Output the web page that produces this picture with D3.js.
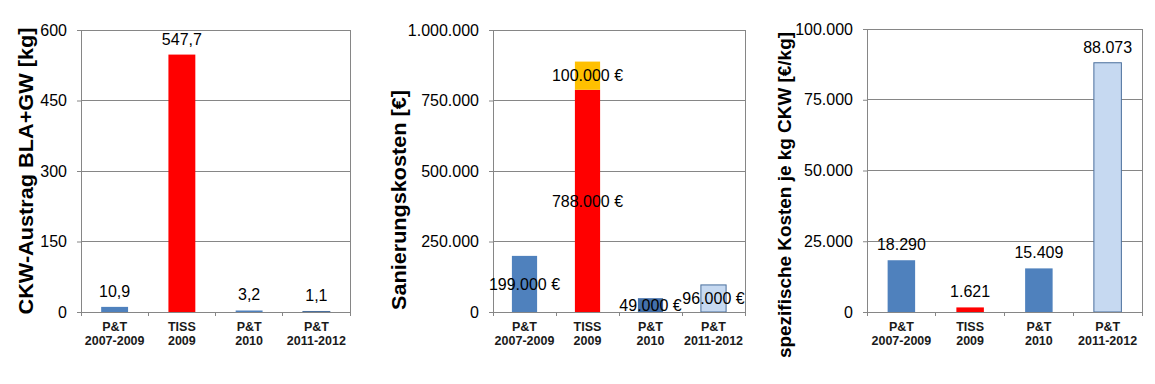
<!DOCTYPE html>
<html>
<head>
<meta charset="utf-8">
<script src="https://cdn.jsdelivr.net/npm/d3@7"></script>
<style>
  body { margin: 0; background: #fff; }
  svg { display: block; font-family: "Liberation Sans", Arial, sans-serif; }
</style>
</head>
<body>
<svg id="chart" width="1155" height="384"></svg>
<script>
// data
const categories = [["P&T", "2007-2009"], ["TISS", "2009"], ["P&T", "2010"], ["P&T", "2011-2012"]];
const austrag = [10.9, 547.7, 3.2, 1.1];               // kg
const kosten = [199000, 788000, 49000, 96000];         // EUR
const kostenZusatz = [0, 100000, 0, 0];                // EUR, stacked on top
const spezKosten = [18290, 1621, 15409, 88073];        // EUR/kg
const austragTicks = [0, 150, 300, 450, 600];
const kostenTicks = [0, 250000, 500000, 750000, 1000000];
const spezTicks = [0, 25000, 50000, 75000, 100000];

const barColors = ["#4f81bd", "#ff0000", "#4f81bd", "#c6d9f1"];
const kostenColors = ["#4f81bd", "#ff0000", "#4470aa", "#c6d9f1"];
const barStroke = [null, null, null, "#4a6f9c"];
const extraColor = "#ffc000";
const gridColor = "#868686";

const de = d3.formatLocale({ decimal: ",", thousands: ".", grouping: [3], currency: ["", " €"] });
const fmtInt = de.format(",d");
const fmtDec = de.format(",.1f");
const fmtEur = v => fmtInt(v) + " €";

const svg = d3.select("#chart");

function panel(opt) {
  const g = svg.append("g");
  const colors = opt.colors || barColors;
  const x = d3.scaleBand().domain(d3.range(4)).range([opt.left, opt.right])
    .paddingInner(0.6).paddingOuter(0.3);
  const y = d3.scaleLinear().domain([0, d3.max(opt.ticks)]).range([opt.bottom, opt.top]);
  const step = (opt.right - opt.left) / 4;

  // grid
  g.selectAll(".grid").data(opt.ticks.slice(1)).join("line")
    .attr("x1", opt.left).attr("x2", opt.right)
    .attr("y1", d => y(d)).attr("y2", d => y(d))
    .attr("stroke", gridColor).attr("stroke-width", 1).attr("shape-rendering", "crispEdges");
  g.append("line").attr("x1", opt.right).attr("x2", opt.right)
    .attr("y1", opt.top).attr("y2", opt.bottom)
    .attr("stroke", gridColor).attr("shape-rendering", "crispEdges");

  // y axis
  const ya = g.append("g").attr("transform", `translate(${opt.left},0)`)
    .call(d3.axisLeft(y).tickValues(opt.ticks).tickFormat(opt.tickFormat).tickSizeInner(4).tickSizeOuter(0).tickPadding(10));
  ya.select(".domain").attr("stroke", gridColor);
  ya.selectAll(".tick line").attr("stroke", gridColor);
  ya.selectAll(".tick text").attr("font-size", 16).attr("fill", "#000")
    .attr("font-family", "Liberation Sans, Arial, sans-serif");

  // bars
  opt.values.forEach((v, i) => {
    g.append("rect")
      .attr("x", x(i)).attr("width", x.bandwidth())
      .attr("y", y(v)).attr("height", Math.max(y(0) - y(v), 0.8))
      .attr("fill", colors[i])
      .attr("stroke", barStroke[i] || "none").attr("stroke-width", 1);
    if (opt.extra && opt.extra[i]) {
      g.append("rect")
        .attr("x", x(i)).attr("width", x.bandwidth())
        .attr("y", y(v + opt.extra[i])).attr("height", y(v) - y(v + opt.extra[i]))
        .attr("fill", extraColor);
    }
  });

  // x axis line + category tick marks
  g.append("line").attr("x1", opt.left).attr("x2", opt.right)
    .attr("y1", opt.bottom).attr("y2", opt.bottom)
    .attr("stroke", gridColor).attr("shape-rendering", "crispEdges");
  g.selectAll(".xt").data(d3.range(5)).join("line")
    .attr("x1", d => opt.left + d * step).attr("x2", d => opt.left + d * step)
    .attr("y1", opt.bottom).attr("y2", opt.bottom + 4)
    .attr("stroke", gridColor).attr("shape-rendering", "crispEdges");

  // category labels
  categories.forEach((c, i) => {
    const t = g.append("text").attr("text-anchor", "middle")
      .attr("font-size", 12.5).attr("font-weight", "bold").attr("fill", "#1a1a1a");
    t.append("tspan").attr("x", x(i) + x.bandwidth() / 2).attr("y", opt.bottom + 19).text(c[0]);
    t.append("tspan").attr("x", x(i) + x.bandwidth() / 2).attr("y", opt.bottom + 33).text(c[1]);
  });

  // value labels
  opt.values.forEach((v, i) => {
    const cx = x(i) + x.bandwidth() / 2;
    if (opt.inside) {
      g.append("text").attr("x", cx).attr("y", (y(0) + y(v)) / 2).attr("dy", "0.36em")
        .attr("text-anchor", "middle").attr("font-size", 16).text(opt.labelFormat(v));
      if (opt.extra && opt.extra[i]) {
        g.append("text").attr("x", cx).attr("y", (y(v) + y(v + opt.extra[i])) / 2).attr("dy", "0.36em")
          .attr("text-anchor", "middle").attr("font-size", 16).text(opt.labelFormat(opt.extra[i]));
      }
    } else {
      g.append("text").attr("x", cx).attr("y", y(v) - 10)
        .attr("text-anchor", "middle").attr("font-size", 16).text(opt.labelFormat(v));
    }
  });

  // y title
  g.append("text")
    .attr("transform", `translate(${opt.titleX},${opt.titleY}) rotate(-90)`)
    .attr("text-anchor", "middle").attr("dy", "0.36em")
    .attr("font-size", opt.titleSize).attr("font-weight", "bold")
    .attr("textLength", opt.titleLength).attr("lengthAdjust", "spacingAndGlyphs")
    .text(opt.title);
}

panel({
  left: 81, right: 350, top: 30, bottom: 312,
  ticks: austragTicks, tickFormat: d => fmtInt(d),
  values: austrag, labelFormat: v => fmtDec(v),
  title: "CKW-Austrag BLA+GW [kg]", titleX: 25, titleY: 171, titleSize: 21, titleLength: 287
});

panel({
  left: 493, right: 745, top: 30, bottom: 312,
  ticks: kostenTicks, tickFormat: d => fmtInt(d), colors: kostenColors,
  values: kosten, extra: kostenZusatz, inside: true, labelFormat: fmtEur,
  title: "Sanierungskosten [€]", titleX: 398, titleY: 200, titleSize: 21, titleLength: 220
});

panel({
  left: 867, right: 1142, top: 29, bottom: 312,
  ticks: spezTicks, tickFormat: d => fmtInt(d),
  values: spezKosten, labelFormat: v => fmtInt(v),
  title: "spezifische Kosten je kg CKW [€/kg]", titleX: 784, titleY: 195, titleSize: 19, titleLength: 326
});
</script>
</body>
</html>
